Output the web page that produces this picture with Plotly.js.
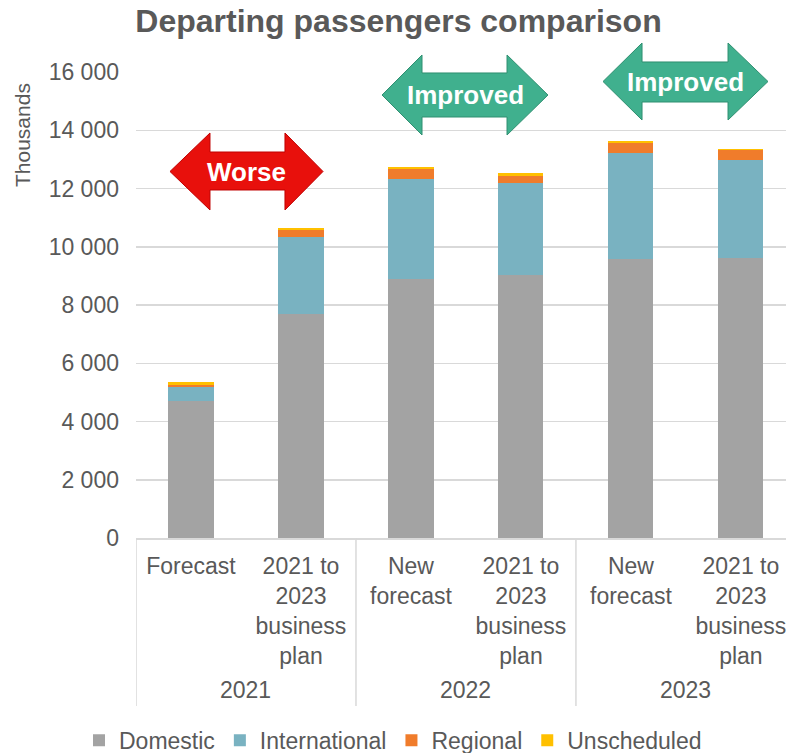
<!DOCTYPE html>
<html>
<head>
<meta charset="utf-8">
<script src="https://cdn.plot.ly/plotly-3.0.1.min.js"></script>
<style>html,body{margin:0;padding:0;background:#fff;}#chart{width:786px;height:753px;}</style>
</head>
<body>
<div id="chart"></div>
<script>
// ---- Data (thousands of departing passengers) ----
const years = ['2021', '2021', '2022', '2022', '2023', '2023'];
const scenarios = ['Forecast', '2021 to<br>2023<br>business<br>plan', 'New<br>forecast', '2021 to<br>2023<br>business<br>plan', 'New<br>forecast', '2021 to<br>2023<br>business<br>plan'];
const domestic = [4700, 7700, 8880, 9020, 9590, 9620];
const international = [490, 2640, 3450, 3170, 3630, 3370];
const regional = [50, 240, 340, 250, 350, 320];
const unscheduled = [120, 70, 80, 90, 60, 45];
const seriesNames = ['Domestic', 'International', 'Regional', 'Unscheduled'];
const seriesColors = ['#a3a3a3', '#79b2c1', '#f07c2b', '#ffc000'];
const yTickVals = [0, 2000, 4000, 6000, 8000, 10000, 12000, 14000, 16000];

const xIdx = scenarios.map((_, i) => i);
const seriesValues = [domestic, international, regional, unscheduled];
const traces = seriesValues.map((vals, i) => ({
  type: 'bar',
  name: seriesNames[i],
  x: xIdx,
  y: vals,
  marker: {color: seriesColors[i]},
  hoverinfo: 'y+name'
}));

// ---- Pixel geometry helpers (paper coords) ----
const PL = 136, PW = 650, PB = 538, PH = 466;
const px = v => (v - PL) / PW;
const py = v => (PB - v) / PH;

const shapes = [];
const annotations = [];

// ---- Year groups: labels + dividers, derived from the years array ----
const groups = [];
years.forEach((yr, i) => {
  if (!groups.length || groups[groups.length - 1].name !== yr) groups.push({name: yr, start: i, end: i});
  else groups[groups.length - 1].end = i;
});
groups.forEach(g => {
  annotations.push({xref: 'x', yref: 'paper', x: (g.start + g.end) / 2, y: py(690), text: g.name,
    showarrow: false, xanchor: 'center', yanchor: 'middle',
    font: {family: 'Liberation Sans, Arial, sans-serif', size: 23, color: '#595959'}});
});
const boundaries = [groups[0].start - 0.5].concat(groups.map(g => g.end + 0.5));
boundaries.forEach(b => {
  shapes.push({type: 'line', xref: 'x', yref: 'paper', x0: b, x1: b, y0: 0, y1: py(706),
    line: {color: '#d9d9d9', width: 1.5}, layer: 'above'});
});

// ---- Decorative double arrows ----
function dblArrow(tipL, tipR, neckL, neckR, top, bottom, bTop, bBot) {
  const cy = (top + bottom) / 2;
  const pts = [[tipL, cy], [neckL, top], [neckL, bTop], [neckR, bTop], [neckR, top], [tipR, cy],
               [neckR, bottom], [neckR, bBot], [neckL, bBot], [neckL, bottom]];
  return 'M' + pts.map(p => px(p[0]).toFixed(4) + ',' + py(p[1]).toFixed(4)).join(' L') + ' Z';
}
const arrows = [
  {geom: [170, 323, 210, 285, 133, 210, 152, 190], fill: '#e8100c', line: '#c00000', text: 'Worse'},
  {geom: [382, 548, 422, 507, 55, 135, 73, 117], fill: '#40b08e', line: '#2e8f70', text: 'Improved'},
  {geom: [603, 768, 642, 728, 43, 120, 62, 102], fill: '#40b08e', line: '#2e8f70', text: 'Improved'}
];
arrows.forEach(a => {
  const g = a.geom;
  shapes.push({type: 'path', xref: 'paper', yref: 'paper', path: dblArrow(...g),
    fillcolor: a.fill, line: {color: a.line, width: 1}, layer: 'above'});
  annotations.push({xref: 'paper', yref: 'paper', x: px((g[0] + g[1]) / 2), y: py((g[4] + g[5]) / 2),
    text: '<b>' + a.text + '</b>', showarrow: false, xanchor: 'center', yanchor: 'middle',
    font: {family: 'Liberation Sans, Arial, sans-serif', size: 26, color: '#ffffff'}});
});
annotations.push({xref: 'paper', yref: 'paper', x: px(23), y: py(135), text: 'Thousands',
  textangle: -90, showarrow: false, xanchor: 'center', yanchor: 'middle',
  font: {family: 'Liberation Sans, Arial, sans-serif', size: 21, color: '#595959'}});

const layout = {
  width: 786, height: 753,
  paper_bgcolor: '#ffffff', plot_bgcolor: '#ffffff',
  font: {family: 'Liberation Sans, Arial, sans-serif', color: '#595959', size: 23},
  separators: '. ',
  title: {text: '<b>Departing passengers comparison</b>', xref: 'container', x: 0.507, xanchor: 'center',
    yref: 'container', y: 0.972, yanchor: 'middle',
    font: {family: 'Liberation Sans, Arial, sans-serif', size: 32, color: '#595959'}},
  margin: {l: PL, r: 0, t: 72, b: 215},
  barmode: 'stack',
  bargap: 0.59,
  showlegend: true,
  legend: {orientation: 'h', xref: 'container', x: 0.5, xanchor: 'center', yref: 'container', y: 0.017, yanchor: 'middle',
    traceorder: 'normal', font: {size: 23, color: '#595959'}},
  xaxis: {type: 'linear', range: [-0.5, 5.41], tickvals: xIdx, ticktext: scenarios,
    showgrid: false, zeroline: false, showline: true, linecolor: '#d9d9d9', linewidth: 1.5,
    ticks: '', ticklabelstandoff: 7, ticklabeloverflow: 'allow', tickfont: {size: 23, color: '#595959'}},
  yaxis: {range: [0, 16000], tickvals: yTickVals, showgrid: true, gridcolor: '#d9d9d9', gridwidth: 1.5,
    zeroline: false, showline: false, separatethousands: true, tickformat: ',d', ticks: '',
    ticklabelstandoff: 16, tickfont: {size: 23, color: '#595959'}},
  shapes: shapes,
  annotations: annotations
};

Plotly.newPlot('chart', traces, layout, {displayModeBar: false, staticPlot: true});
</script>
</body>
</html>
